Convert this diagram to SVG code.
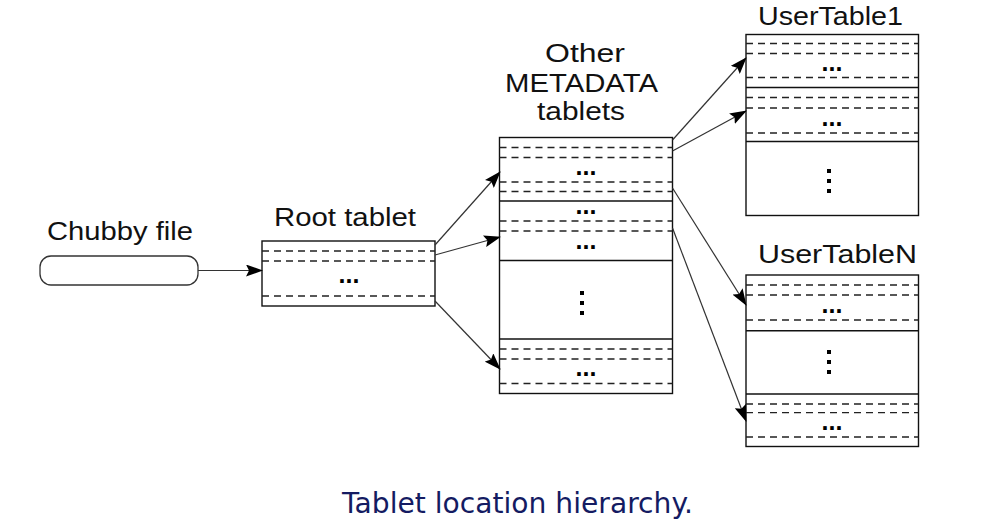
<svg xmlns="http://www.w3.org/2000/svg" width="996" height="525" viewBox="0 0 996 525">
<style>
.lbl{font-family:"Liberation Sans",Arial,Helvetica,sans-serif;font-size:26px;fill:#111}
.box{fill:#fff;stroke:#111;stroke-width:1.4}
.sep{stroke:#111;stroke-width:1.4;fill:none}
.dash{stroke:#222;stroke-width:1.3;stroke-dasharray:7 5;fill:none}
.dots{font-family:"Liberation Sans",Arial,sans-serif;font-weight:bold;font-size:25px;fill:#000;text-anchor:middle}
.vd{fill:#000}
.conn{stroke:#333;stroke-width:1.2;fill:none;marker-end:url(#ah)}
.cap{font-family:"Comic Sans MS","DejaVu Sans",sans-serif;font-size:28px;fill:#141b62}
</style>
<defs>
<marker id="ah" markerUnits="userSpaceOnUse" markerWidth="17" markerHeight="12" refX="16" refY="6" orient="auto">
<path d="M0,0 L17,6 L0,12 L3,6 z" fill="#000"/>
</marker>
<g id="vdots"><rect x="-2" y="-2" width="4" height="4"/><rect x="-2" y="8" width="4" height="4"/><rect x="-2" y="18" width="4" height="4"/></g>
</defs>
<rect width="996" height="525" fill="#fff"/>

<g id="chubby">
<text class="lbl" x="47" y="240" textLength="146" lengthAdjust="spacingAndGlyphs">Chubby file</text>
<rect x="40" y="256" width="158" height="29" rx="11" fill="#fff" stroke="#333" stroke-width="1.3"/>
</g>

<g id="root">
<text class="lbl" x="274" y="226" textLength="142" lengthAdjust="spacingAndGlyphs">Root tablet</text>
<rect class="box" x="262" y="241" width="173" height="65"/>
<line class="dash" x1="262" y1="251" x2="435" y2="251"/>
<line class="dash" x1="262" y1="261" x2="435" y2="261"/>
<line class="dash" x1="262" y1="296" x2="435" y2="296"/>
<text class="dots" x="349" y="283">...</text>
</g>

<g id="metadata">
<text class="lbl" x="545" y="62" textLength="80" lengthAdjust="spacingAndGlyphs">Other</text>
<text class="lbl" x="505" y="92" textLength="153" lengthAdjust="spacingAndGlyphs">METADATA</text>
<text class="lbl" x="537" y="120" textLength="88" lengthAdjust="spacingAndGlyphs">tablets</text>
<rect class="box" x="499.5" y="137.5" width="173" height="256"/>
<line class="sep" x1="499.5" y1="201" x2="672.5" y2="201"/>
<line class="sep" x1="499.5" y1="260.5" x2="672.5" y2="260.5"/>
<line class="sep" x1="499.5" y1="339" x2="672.5" y2="339"/>
<line class="dash" x1="499.5" y1="147.5" x2="672.5" y2="147.5"/>
<line class="dash" x1="499.5" y1="157.5" x2="672.5" y2="157.5"/>
<line class="dash" x1="499.5" y1="182" x2="672.5" y2="182"/>
<line class="dash" x1="499.5" y1="191.5" x2="672.5" y2="191.5"/>
<line class="dash" x1="499.5" y1="221" x2="672.5" y2="221"/>
<line class="dash" x1="499.5" y1="231" x2="672.5" y2="231"/>
<line class="dash" x1="499.5" y1="349" x2="672.5" y2="349"/>
<line class="dash" x1="499.5" y1="359" x2="672.5" y2="359"/>
<line class="dash" x1="499.5" y1="383.5" x2="672.5" y2="383.5"/>
<text class="dots" x="586" y="175">...</text>
<text class="dots" x="586" y="214">...</text>
<text class="dots" x="586" y="249">...</text>
<text class="dots" x="586" y="376">...</text>
<use href="#vdots" class="vd" x="582" y="293"/>
</g>

<g id="usertable1">
<text class="lbl" x="758" y="25" textLength="145" lengthAdjust="spacingAndGlyphs">UserTable1</text>
<rect class="box" x="746" y="34.5" width="172.5" height="181"/>
<line class="sep" x1="746" y1="87.5" x2="918.5" y2="87.5"/>
<line class="sep" x1="746" y1="141.5" x2="918.5" y2="141.5"/>
<line class="dash" x1="746" y1="43.5" x2="918.5" y2="43.5"/>
<line class="dash" x1="746" y1="53.5" x2="918.5" y2="53.5"/>
<line class="dash" x1="746" y1="77.5" x2="918.5" y2="77.5"/>
<line class="dash" x1="746" y1="97.5" x2="918.5" y2="97.5"/>
<line class="dash" x1="746" y1="108" x2="918.5" y2="108"/>
<line class="dash" x1="746" y1="133" x2="918.5" y2="133"/>
<text class="dots" x="832" y="71">...</text>
<text class="dots" x="832" y="126">...</text>
<use href="#vdots" class="vd" x="829" y="171"/>
</g>

<g id="usertableN">
<text class="lbl" x="758" y="263" textLength="159" lengthAdjust="spacingAndGlyphs">UserTableN</text>
<rect class="box" x="746" y="275" width="172.5" height="171.5"/>
<line class="sep" x1="746" y1="330.7" x2="918.5" y2="330.7"/>
<line class="sep" x1="746" y1="394" x2="918.5" y2="394"/>
<line class="dash" x1="746" y1="285" x2="918.5" y2="285"/>
<line class="dash" x1="746" y1="295" x2="918.5" y2="295"/>
<line class="dash" x1="746" y1="320" x2="918.5" y2="320"/>
<line class="dash" x1="746" y1="404" x2="918.5" y2="404"/>
<line class="dash" x1="746" y1="412.7" x2="918.5" y2="412.7"/>
<line class="dash" x1="746" y1="437" x2="918.5" y2="437"/>
<text class="dots" x="832" y="313">...</text>
<text class="dots" x="832" y="430">...</text>
<use href="#vdots" class="vd" x="829" y="352"/>
</g>

<g id="connectors">
<line class="conn" x1="198" y1="270.5" x2="262" y2="270.5"/>
<line class="conn" x1="435" y1="245" x2="500" y2="172"/>
<line class="conn" x1="435" y1="255" x2="500" y2="237"/>
<line class="conn" x1="435" y1="301" x2="500" y2="369"/>
<line class="conn" x1="672.5" y1="140" x2="746" y2="58"/>
<line class="conn" x1="672.5" y1="151" x2="746" y2="111"/>
<line class="conn" x1="672.5" y1="188" x2="746" y2="305"/>
<line class="conn" x1="672.5" y1="228" x2="746" y2="421"/>
</g>

<text class="cap" x="342" y="513" textLength="351" lengthAdjust="spacingAndGlyphs">Tablet location hierarchy.</text>
</svg>
